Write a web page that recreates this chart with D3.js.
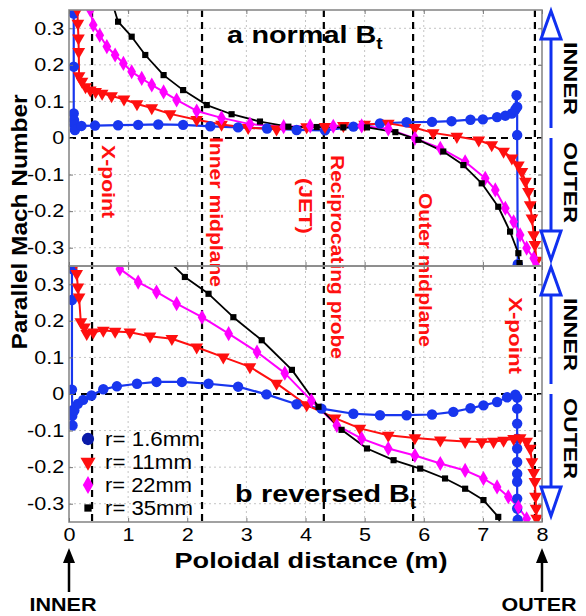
<!DOCTYPE html>
<html><head><meta charset="utf-8">
<script src="https://cdn.jsdelivr.net/npm/d3@7"></script>
<style>
body{margin:0;background:#fff}
svg{display:block;background:#fff}
text{font-family:"Liberation Sans",Arial,Helvetica,sans-serif}
</style></head>
<body><svg id="c" width="586" height="616"></svg>
<script>
// ---------- data ----------
const xTicks = [0,1,2,3,4,5,6,7,8];
const yTicks = [-0.3,-0.2,-0.1,0,0.1,0.2,0.3];
const seriesNames = ["r= 1.6mm","r= 11mm","r= 22mm","r= 35mm"];
const landmarkX = [0.39,2.25,4.31,5.82,7.88];

// panel a: normal Bt  [poloidal distance (m), parallel Mach number]
const normal16 = [[0.08,0.34],[0.08,0.195],[0.08,0.067],[0.085,0.049],[0.09,0.036],[0.1,0.022],[0.21,0.033],[0.44,0.034],[0.83,0.035],[1.17,0.036],[1.51,0.037],[1.93,0.036],[2.39,0.032],[2.86,0.029],[3.35,0.026],[3.85,0.022],[4.33,0.021],[4.81,0.031],[5.26,0.04],[5.71,0.043],[6.14,0.044],[6.47,0.046],[6.79,0.05],[7.0,0.051],[7.24,0.057],[7.38,0.061],[7.49,0.067],[7.55,0.078],[7.57,0.117],[7.58,0.085],[7.58,0.008],[7.59,-0.345]];
const normal11 = [[0.14,0.35],[0.15,0.313],[0.16,0.273],[0.165,0.236],[0.17,0.17],[0.22,0.155],[0.28,0.14],[0.36,0.131],[0.45,0.127],[0.56,0.122],[0.72,0.115],[0.93,0.106],[1.15,0.093],[1.4,0.082],[1.71,0.066],[2.16,0.05],[2.58,0.037],[3.03,0.028],[3.51,0.024],[4.02,0.03],[4.33,0.031],[4.64,0.034],[5.0,0.037],[5.4,0.04],[5.85,0.028],[6.16,0.014],[6.56,0.004],[6.93,-0.006],[7.15,-0.019],[7.35,-0.037],[7.49,-0.055],[7.6,-0.074],[7.66,-0.092],[7.72,-0.119],[7.77,-0.147],[7.8,-0.183],[7.83,-0.219],[7.86,-0.265],[7.88,-0.292],[7.91,-0.335]];
const normal22 = [[0.36,0.35],[0.41,0.309],[0.52,0.281],[0.64,0.25],[0.78,0.227],[0.92,0.204],[1.06,0.181],[1.23,0.163],[1.4,0.145],[1.6,0.126],[1.82,0.104],[2.16,0.074],[2.58,0.055],[3.06,0.038],[3.63,0.031],[4.08,0.033],[4.47,0.032],[4.95,0.033],[5.4,0.025],[5.85,-0.001],[6.28,-0.028],[6.7,-0.065],[7.04,-0.11],[7.21,-0.142],[7.38,-0.192],[7.52,-0.229],[7.63,-0.265],[7.74,-0.301],[7.86,-0.329],[7.9,-0.35]];
const normal35 = [[0.75,0.36],[0.83,0.318],[1.06,0.277],[1.29,0.227],[1.6,0.172],[1.93,0.131],[2.33,0.09],[2.75,0.065],[3.23,0.045],[3.71,0.031],[4.19,0.03],[4.64,0.029],[5.04,0.029],[5.52,0.016],[5.91,-0.005],[6.33,-0.037],[6.67,-0.074],[6.98,-0.124],[7.26,-0.188],[7.46,-0.256],[7.6,-0.315],[7.62,-0.342]];

// panel b: reversed Bt
const reversed16 = [[0.05,0.342],[0.05,0.257],[0.05,0.012],[0.055,-0.045],[0.055,-0.06],[0.06,-0.086],[0.09,-0.045],[0.15,-0.027],[0.24,-0.016],[0.38,-0.004],[0.58,0.013],[0.81,0.021],[1.15,0.028],[1.48,0.033],[1.91,0.033],[2.36,0.028],[2.86,0.02],[3.34,-0.001],[3.85,-0.028],[4.27,-0.04],[4.81,-0.054],[5.26,-0.058],[5.71,-0.058],[6.14,-0.056],[6.5,-0.049],[6.79,-0.039],[7.01,-0.031],[7.24,-0.022],[7.41,-0.009],[7.55,-0.002],[7.58,-0.01],[7.58,-0.04],[7.58,-0.081],[7.58,-0.122],[7.58,-0.149],[7.58,-0.186],[7.58,-0.218],[7.58,-0.24],[7.58,-0.286],[7.58,-0.313],[7.59,-0.344]];
const reversed11 = [[0.12,0.36],[0.13,0.329],[0.15,0.292],[0.17,0.265],[0.2,0.197],[0.26,0.183],[0.3,0.165],[0.41,0.169],[0.58,0.174],[0.78,0.171],[1.03,0.169],[1.37,0.158],[1.74,0.151],[2.16,0.128],[2.61,0.101],[3.06,0.074],[3.51,0.029],[4.02,-0.03],[4.5,-0.066],[4.92,-0.094],[5.4,-0.113],[5.85,-0.12],[6.28,-0.126],[6.7,-0.13],[6.98,-0.131],[7.18,-0.13],[7.35,-0.127],[7.52,-0.122],[7.63,-0.12],[7.74,-0.13],[7.8,-0.149],[7.83,-0.186],[7.86,-0.215],[7.88,-0.24],[7.89,-0.28],[7.9,-0.313],[7.91,-0.34]];
const reversed22 = [[0.86,0.342],[1.17,0.306],[1.48,0.279],[1.82,0.247],[2.25,0.21],[2.7,0.165],[3.18,0.115],[3.65,0.057],[4.1,-0.018],[4.53,-0.086],[4.95,-0.122],[5.4,-0.149],[5.85,-0.168],[6.28,-0.19],[6.7,-0.209],[7.01,-0.231],[7.24,-0.254],[7.43,-0.281],[7.6,-0.309],[7.74,-0.341]];
const reversed35 = [[1.71,0.36],[1.96,0.32],[2.36,0.274],[2.78,0.21],[3.26,0.147],[3.77,0.066],[4.22,-0.035],[4.61,-0.098],[5.04,-0.149],[5.49,-0.181],[5.94,-0.204],[6.36,-0.231],[6.7,-0.259],[7.01,-0.29],[7.26,-0.336],[7.3,-0.36]];

// ---------- drawing ----------
const svg = d3.select("#c");
const FONT = '"Liberation Sans",Arial,Helvetica,sans-serif';
const x = d3.scaleLinear().domain([0,8]).range([69,542]);
const yA = d3.scaleLinear().domain([-0.35,0.35]).range([266,10]);
const yB = d3.scaleLinear().domain([-0.35,0.35]).range([522,266]);

const styles = [
  {c:"#1836ee", sym:d3.symbolCircle,   size:85, rot:0, w:2.2},
  {c:"#ff0f0f", sym:d3.symbolTriangle, size:70, rot:180, w:2},
  {c:"#ff00ff", sym:d3.symbolDiamond,  size:66, rot:0, w:2},
  {c:"#000000", sym:d3.symbolSquare,   size:38, rot:0, w:1.8}
];

const panels = [
  {y:yA, data:[normal16,normal11,normal22,normal35], id:"clipA"},
  {y:yB, data:[reversed16,reversed11,reversed22,reversed35], id:"clipB"}
];

const defs = svg.append("defs");

panels.forEach((p,pi)=>{
  const [yb,yt] = p.y.range();
  defs.append("clipPath").attr("id",p.id).append("rect")
    .attr("x",x(0)).attr("y",yt).attr("width",x(8)-x(0)).attr("height",yb-yt);
  const g = svg.append("g");
  g.selectAll(".gx").data(xTicks.filter(t=>t>0&&t<8)).join("line")
    .attr("x1",d=>x(d)).attr("x2",d=>x(d)).attr("y1",yt).attr("y2",yb)
    .attr("stroke","#c4c4c4").attr("stroke-width",1).attr("stroke-dasharray","2,3");
  g.selectAll(".gy").data(yTicks.filter(t=>t!==0)).join("line")
    .attr("x1",x(0)).attr("x2",x(8)).attr("y1",d=>p.y(d)).attr("y2",d=>p.y(d))
    .attr("stroke","#c4c4c4").attr("stroke-width",1).attr("stroke-dasharray","2,3");
  g.append("line").attr("x1",x(0)).attr("x2",x(8)).attr("y1",p.y(0)).attr("y2",p.y(0))
    .attr("stroke","#000").attr("stroke-width",2.2).attr("stroke-dasharray","7,5");
});

// landmark dashed verticals across both panels
svg.append("g").selectAll("line").data(landmarkX).join("line")
  .attr("x1",d=>x(d)).attr("x2",d=>x(d)).attr("y1",yA.range()[1]).attr("y2",yB.range()[0])
  .attr("stroke","#000").attr("stroke-width",2.2).attr("stroke-dasharray","7,5");

// vertical text helper
function vtext(txt, cx, ytop, len, size, color, weight){
  svg.append("text").attr("transform",`translate(${cx},${ytop}) rotate(90)`)
    .attr("x",0).attr("y",0).attr("dominant-baseline","central")
    .attr("font-size",size).attr("font-weight",weight||"bold").attr("fill",color)
    .attr("textLength",len).attr("lengthAdjust","spacingAndGlyphs").text(txt);
}
vtext("X-point", x(landmarkX[0])+16, 145, 73, 18, "#ff1010");
vtext("Inner midplane", x(landmarkX[1])+14, 137, 150, 18, "#ff1010");
vtext("(JET)", x(landmarkX[2])-19, 178, 56, 18, "#ff1010");
vtext("Reciprocating probe", x(landmarkX[2])+13, 155, 204, 18, "#ff1010");
vtext("Outer midplane", x(landmarkX[3])+12, 193, 154, 18, "#ff1010");
vtext("X-point", x(landmarkX[4])-20, 297, 77, 18, "#ff1010");

// series
panels.forEach((p)=>{
  const g = svg.append("g").attr("clip-path",`url(#${p.id})`);
  const line = d3.line().x(d=>x(d[0])).y(d=>p.y(d[1]));
  p.data.forEach((ser,i)=>{
    const s = styles[i];
    g.append("path").datum(ser).attr("d",line).attr("fill","none")
      .attr("stroke",s.c).attr("stroke-width",s.w).attr("stroke-linejoin","round");
  });
  p.data.forEach((ser,i)=>{
    const s = styles[i];
    g.selectAll(null).data(ser).join("path")
      .attr("d",d3.symbol().type(s.sym).size(s.size))
      .attr("transform",d=>`translate(${x(d[0])},${p.y(d[1])}) rotate(${s.rot})`)
      .attr("fill",s.c);
  });
});

// frames and axes
panels.forEach((p,pi)=>{
  const [yb,yt] = p.y.range();
  svg.append("rect").attr("x",x(0)).attr("y",yt).attr("width",x(8)-x(0)).attr("height",yb-yt)
    .attr("fill","none").attr("stroke","#8a8a8a").attr("stroke-width",1.6);
  const gl = svg.append("g").attr("transform",`translate(${x(0)},0)`)
    .call(d3.axisLeft(p.y).tickValues(yTicks).tickSizeInner(-4).tickSizeOuter(0).tickPadding(4)
      .tickFormat(d=>d===0?"0":String(d)));
  gl.select(".domain").remove();
  gl.selectAll("line").attr("stroke","#777");
  gl.selectAll("text").attr("font-size",18).attr("font-family",FONT).attr("fill","#000")
    .attr("transform","scale(1.2,1)");
  const gr = svg.append("g").attr("transform",`translate(${x(8)},0)`)
    .call(d3.axisRight(p.y).tickValues(yTicks).tickSizeInner(-4).tickSizeOuter(0).tickFormat(""));
  gr.select(".domain").remove(); gr.selectAll("line").attr("stroke","#777");
  const gt = svg.append("g").attr("transform",`translate(0,${yt})`)
    .call(d3.axisTop(x).tickValues(xTicks).tickSizeInner(-4).tickSizeOuter(0).tickFormat(""));
  gt.select(".domain").remove(); gt.selectAll("line").attr("stroke","#777");
  const gb = svg.append("g").attr("transform",`translate(0,${yb})`)
    .call(d3.axisBottom(x).tickValues(xTicks).tickSizeInner(-4).tickSizeOuter(0).tickPadding(6)
      .tickFormat(pi===1?(d=>String(d)):""));
  gb.select(".domain").remove(); gb.selectAll("line").attr("stroke","#777");
  gb.selectAll("text").attr("font-size",18).attr("font-family",FONT).attr("fill","#000")
    .attr("transform","scale(1.2,1)");
});

// panel titles
function title(letter, word, x0, base){
  const t = svg.append("text").attr("transform",`translate(${x0},${base}) scale(1.2,1)`)
    .attr("font-size",24).attr("font-weight","bold").attr("fill","#000");
  t.append("tspan").text(letter);
  t.append("tspan").attr("dx",7).text(word+" B");
  t.append("tspan").attr("font-size",16).attr("dy",6).text("t");
}
title("a","normal",227,43);
title("b","reversed",235,502);

// legend
const legY = [439,462,485,508];
const lg = svg.append("g");
seriesNames.forEach((nm,i)=>{
  const s = styles[i];
  lg.append("path").attr("d",d3.symbol().type(s.sym).size(s.size*1.4))
    .attr("transform",`translate(88,${legY[i]}) rotate(${s.rot})`)
    .attr("fill", i===0 ? "#0a1aa8" : s.c);
  lg.append("text").attr("x",105).attr("y",legY[i]).attr("dominant-baseline","central")
    .attr("font-size",20).attr("fill","#000")
    .attr("textLength",[95,87,87,88][i]).attr("lengthAdjust","spacingAndGlyphs").text(nm);
});

// axis labels
svg.append("text").attr("x",311).attr("y",568).attr("text-anchor","middle")
  .attr("font-size",22).attr("font-weight","bold").attr("textLength",273)
  .attr("lengthAdjust","spacingAndGlyphs").text("Poloidal distance (m)");
svg.append("text").attr("transform","translate(19,222) rotate(-90)").attr("text-anchor","middle")
  .attr("dominant-baseline","central").attr("font-size",22).attr("font-weight","bold")
  .attr("textLength",255).attr("lengthAdjust","spacingAndGlyphs").text("Parallel Mach Number");

// right-side blue double arrows with INNER / OUTER
panels.forEach((p)=>{
  const [yb,yt] = p.y.range();
  const ax = 551, z = p.y(0);
  const g = svg.append("g").attr("stroke","#1030f0").attr("stroke-width",3).attr("fill","#fff");
  const top = yt+1, topBase = yt+29, bot = yb-6, botBase = yb-35;
  g.append("line").attr("x1",ax).attr("x2",ax).attr("y1",topBase).attr("y2",z-10);
  g.append("line").attr("x1",ax).attr("x2",ax).attr("y1",z).attr("y2",botBase);
  g.append("path").attr("d",`M${ax},${top}L${ax+10},${topBase}L${ax-10},${topBase}Z`).attr("stroke-linejoin","miter");
  g.append("path").attr("d",`M${ax},${bot}L${ax+10},${botBase}L${ax-10},${botBase}Z`).attr("stroke-linejoin","miter");
  vtext("INNER", 570, yt+32, 73, 19, "#000");
  vtext("OUTER", 570, z+4, 81, 19, "#000");
});

// bottom INNER / OUTER arrows
[[x(0),"INNER",63,67],[x(8),"OUTER",539,75]].forEach(([ax,lab,cx,len])=>{
  svg.append("line").attr("x1",ax).attr("x2",ax).attr("y1",592).attr("y2",560)
    .attr("stroke","#000").attr("stroke-width",2.5);
  svg.append("path").attr("d",`M${ax},${548}L${ax+6},${563}L${ax-6},${563}Z`).attr("fill","#000");
  svg.append("text").attr("x",cx).attr("y",611).attr("text-anchor","middle")
    .attr("font-size",18).attr("font-weight","bold").attr("textLength",len)
    .attr("lengthAdjust","spacingAndGlyphs").text(lab);
});
</script></body></html>
